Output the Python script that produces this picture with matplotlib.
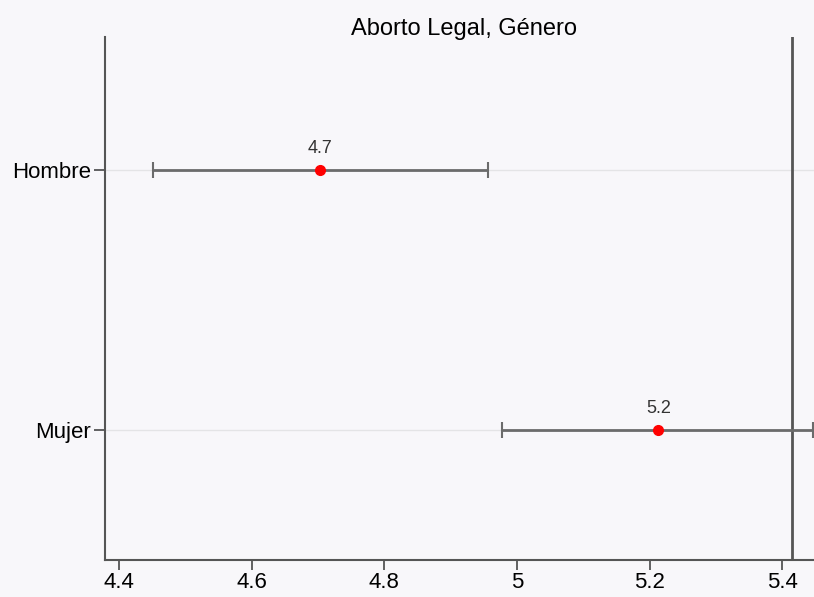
import matplotlib
matplotlib.use('Agg')
import matplotlib.pyplot as plt

categories = ["Hombre", "Mujer"]
means = [4.703, 5.213]
ci_low = [4.452, 4.978]
ci_high = [4.957, 5.446]
labels = ["4.7", "5.2"]
ref_line = 5.415
xticks = [4.4, 4.6, 4.8, 5.0, 5.2, 5.4]
xtick_labels = ["4.4", "4.6", "4.8", "5", "5.2", "5.4"]

plt.rcParams['font.family'] = ['Liberation Sans', 'DejaVu Sans']
bg = "#f8f7fa"

fig = plt.figure(figsize=(8.14, 5.97), dpi=100, facecolor=bg)
ax = fig.add_axes([0.129, 0.062, 0.871, 0.876], facecolor=bg)

ypos = list(range(1, len(categories) + 1))
for y in ypos:
    ax.axhline(y, color="#e4e4e6", lw=1, zorder=0)

err_lo = [m - l for m, l in zip(means, ci_low)]
err_hi = [h - m for m, h in zip(means, ci_high)]
ax.errorbar(means, ypos, xerr=[err_lo, err_hi], fmt="none", ecolor="#6b6b6b",
            elinewidth=2, capsize=5.5, capthick=1.5, zorder=2)
ax.plot(means, ypos, "o", color="red", ms=7, zorder=3)
for m, y, t in zip(means, ypos, labels):
    ax.text(m, y - 0.05, t, ha="center", va="bottom", fontsize=13, color="#333333")

ax.axvline(ref_line, color="#555555", lw=2, zorder=1)

ax.set_xlim(4.379, 5.4476)
ax.set_ylim(2.5, 0.49)
ax.set_yticks(ypos)
ax.set_yticklabels(categories, fontsize=16)
ax.set_xticks(xticks)
ax.set_xticklabels(xtick_labels, fontsize=16)
ax.tick_params(axis="y", length=8, width=1.3, color="#555555", pad=2)
ax.tick_params(axis="x", length=7, width=1.3, color="#555555", pad=2)

for s in ["top", "right"]:
    ax.spines[s].set_visible(False)
for s in ["left", "bottom"]:
    ax.spines[s].set_color("#555555")
    ax.spines[s].set_linewidth(1.5)

fig.text(0.57, 0.952, "Aborto Legal, Género", ha="center", va="center", fontsize=17)

plt.savefig("out.png", dpi=100, facecolor=bg)
